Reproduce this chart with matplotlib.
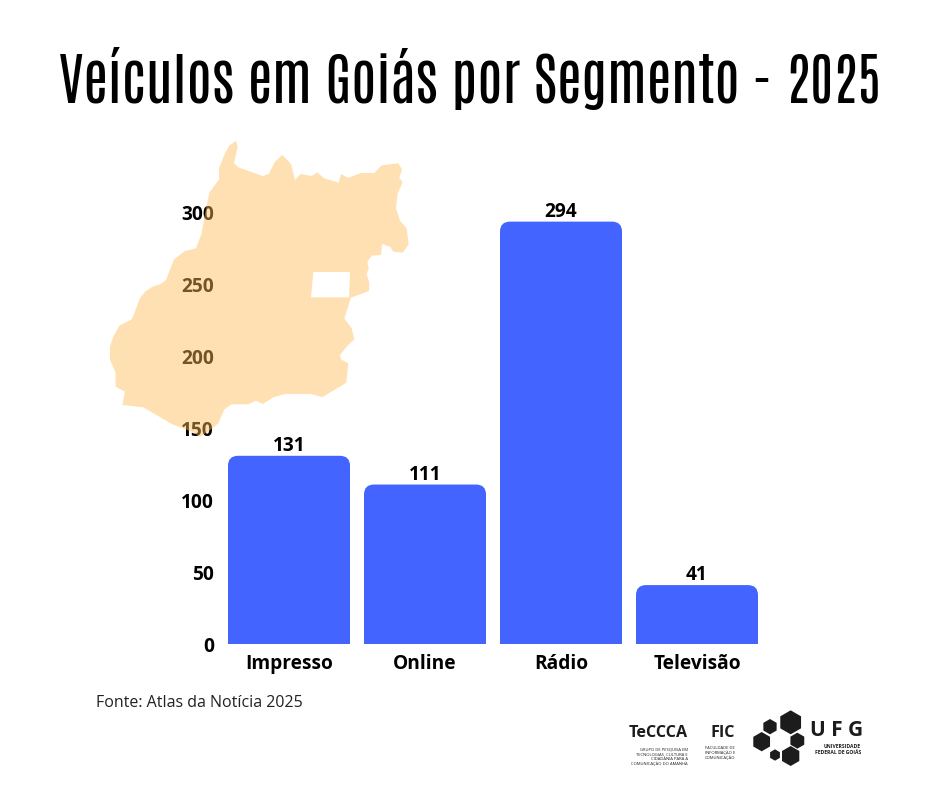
#coding:utf-8
import matplotlib
matplotlib.use('Agg')
import matplotlib.pyplot as plt
from matplotlib import font_manager as fm
from matplotlib.patches import FancyBboxPatch, PathPatch, RegularPolygon
from matplotlib.path import Path

W, H = 940, 788

segmentos = ['Impresso', 'Online', 'Rádio', 'Televisão']
veiculos = [131, 111, 294, 41]
y_ticks = [0, 50, 100, 150, 200, 250, 300]

titulo = 'Veículos em Goiás por Segmento - 2025'
fonte = 'Fonte: Atlas da Notícia 2025'

AZUL = '#4364FF'
PRETO = '#1c1c1c'

mapa_xy = [(388,47),(408,32),(413,50),(402,100),(415,112),(488,138),(506,132),(525,95),
           (547,75),(573,102),(585,150),(602,132),(635,138),(652,127),(672,145),(716,158),
           (723,132),(745,144),(782,129),(823,129),(845,106),(895,100),(906,118),(898,143),
           (908,157),(893,190),(888,235),(900,272),(920,295),(926,343),(908,368),(880,365),
           (870,350),(846,342),(843,375),(815,377),(802,395),(806,415),(800,432),(808,458),
           (807,483),(753,503),(733,565),(755,595),(763,628),(740,650),(720,675),(723,688),
           (745,700),(739,758),(668,801),(632,792),(555,792),(520,802),(488,822),(468,812),
           (445,823),(395,823),(373,838),(355,880),(325,905),(300,920),(275,905),(215,882),
           (130,832),(67,825),(75,785),(47,770),(46,725),(30,690),(30,650),(40,620),
           (58,587),(95,568),(105,545),(118,508),(135,485),(158,470),(180,463),(198,450),
           (222,388),(255,363),(288,355),(305,310),(315,250),(328,188),(357,148),(357,115),(375,70)]
df_xy = [(640,426),(750,426),(747,502),(633,502)]

# hexagonos do logo UFG: x, y, raio (px/3 + origem 620,700)
hexagonos = [(512,67,36),(450,80,23),(532,122,24),(425,125,29),(512,168,30),(465,165,17)]


def fx(px):
    return px / W


def fy(py):
    return 1 - py / H


def crop(p, ox, oy):
    return (fx(ox + p[0] / 3), fy(oy + p[1] / 3))


def open_sans(peso):
    # Open Sans largura normal, o arquivo mais perto do peso pedido
    fontes = [f for f in fm.fontManager.ttflist
              if f.name == 'Open Sans' and f.style == 'normal' and f.stretch == 'normal']
    f = min(fontes, key=lambda f: abs(int(f.weight) - peso))
    return f.fname


BOLD = open_sans(700)
REG = open_sans(400)


def fp(size, arquivo=BOLD):
    return fm.FontProperties(fname=arquivo, size=size)


fig = plt.figure(figsize=(W / 100, H / 100), dpi=100, facecolor='white')

ax = fig.add_axes([fx(221), fy(644), (765 - 221) / W, (644 - 213) / H])
ax.set_xlim(-0.5, 3.5)
ax.set_ylim(0, 300)
for s in ax.spines.values():
    s.set_visible(False)

largura = 122 / 136
r_x = 10 / 136
r_y = 10 / (431 / 300)
for i, v in enumerate(veiculos):
    ax.add_patch(FancyBboxPatch((i - largura / 2, -30), largura, v + 30,
                                boxstyle='round,pad=0,rounding_size=%f' % r_x,
                                mutation_aspect=r_y / r_x, fc=AZUL, ec='none'))
    ax.text(i, v, str(v), ha='center', va='bottom', fontproperties=fp(13.8), color='black')

ax.set_xticks(range(len(segmentos)))
ax.set_xticklabels(segmentos, fontproperties=fp(13.8))
ax.set_yticks(y_ticks)
ax.set_yticklabels([str(t) for t in y_ticks], fontproperties=fp(13.8))
ax.tick_params(length=0, axis='x', pad=7.5)
ax.tick_params(length=0, axis='y', pad=5)

# mapa por cima dos rotulos, semitransparente
pts = [crop(p, 100, 130) for p in mapa_xy]
buraco = [crop(p, 100, 130) for p in df_xy]
verts = pts + [pts[0]] + buraco[::-1] + [buraco[-1]]
codes = ([Path.MOVETO] + [Path.LINETO] * (len(pts) - 1) + [Path.CLOSEPOLY]
         + [Path.MOVETO] + [Path.LINETO] * 3 + [Path.CLOSEPOLY])
mapa = PathPatch(Path(verts, codes), fc='#FFBB54', ec='none', alpha=0.45,
                 transform=fig.transFigure, zorder=5)
fig.add_artist(mapa)

fig.text(fx(470), fy(78), titulo, ha='center', va='center', fontsize=40.8,
         family='Antonio', fontweight='bold', color='black')
fig.text(fx(96), fy(703), fonte, ha='left', va='center', fontproperties=fp(11.5, REG), color='#222222')

# logos no rodape
for x, y, r in hexagonos:
    cx, cy = crop((x, y), 620, 700)
    fig.add_artist(RegularPolygon((cx * W / 100, cy * H / 100), 6, radius=r / 300,
                                  fc=PRETO, ec='none', transform=fig.dpi_scale_trans))

fig.text(fx(688), fy(733), 'TeCCCA', ha='right', va='center', fontproperties=fp(11.6), color=PRETO)
fig.text(fx(735), fy(733), 'FIC', ha='right', va='center', fontproperties=fp(11.6), color=PRETO)
fig.text(fx(810), fy(731), 'U F G', ha='left', va='center', fontproperties=fp(15), color=PRETO)
fig.text(fx(861), fy(747), 'UNIVERSIDADE', ha='right', va='center', fontproperties=fp(3.6), color=PRETO)
fig.text(fx(861), fy(753), 'FEDERAL DE GOIÁS', ha='right', va='center', fontproperties=fp(3.6), color=PRETO)
fig.text(fx(688), fy(757), 'GRUPO DE PESQUISA EM\nTECNOLOGIAS, CULTURA E\nCIDADANIA PARA A\nCOMUNICAÇÃO DO AMANHÃ',
         ha='right', va='center', fontproperties=fp(3, REG), linespacing=1.15, color=PRETO)
fig.text(fx(735), fy(753), 'FACULDADE DE\nINFORMAÇÃO E\nCOMUNICAÇÃO',
         ha='right', va='center', fontproperties=fp(3, REG), linespacing=1.15, color=PRETO)

fig.savefig('out.png', dpi=100, facecolor='white')
